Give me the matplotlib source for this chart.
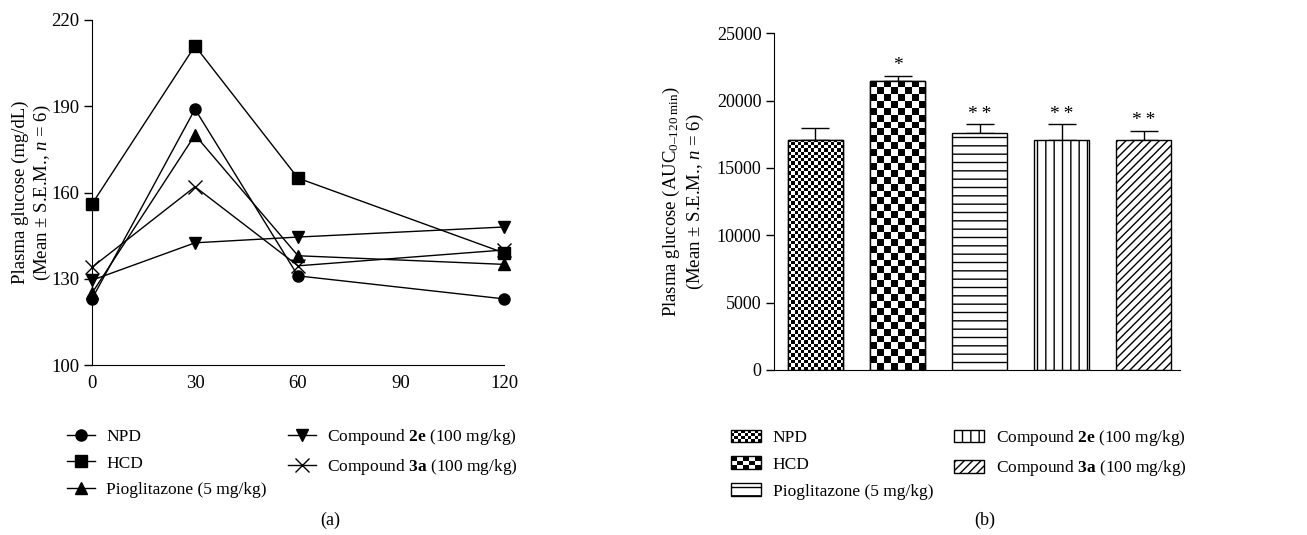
import numpy as np
import matplotlib
matplotlib.use("Agg")
import matplotlib.pyplot as plt
from matplotlib.patches import Rectangle
from matplotlib.legend_handler import HandlerBase

plt.rcParams['font.family'] = ['Liberation Serif', 'DejaVu Serif']
plt.rcParams['mathtext.fontset'] = 'custom'
plt.rcParams['mathtext.rm'] = 'Liberation Serif'
plt.rcParams['mathtext.it'] = 'Liberation Serif:italic'
plt.rcParams['mathtext.bf'] = 'Liberation Serif:bold'
plt.rcParams['font.size'] = 12.5
plt.rcParams['hatch.linewidth'] = 1.0

# ---------------- data ----------------
time_points = [0, 30, 60, 120]
groups = ["NPD", "HCD", "Pioglitazone (5 mg/kg)",
          r"Compound $\mathbf{2e}$ (100 mg/kg)", r"Compound $\mathbf{3a}$ (100 mg/kg)"]
npd = [123, 189, 131, 123]
hcd = [156, 211, 165, 139]
pio = [125, 180, 138, 135]
c2e = [129.5, 142.5, 144.5, 148]
c3a = [134, 162, 134.5, 140]
series = [npd, hcd, pio, c2e, c3a]
markers = ['o', 's', '^', 'v', 'x']

auc_mean = [17100, 21450, 17600, 17100, 17050]
auc_sem = [900, 380, 650, 1150, 700]
auc_sig = ["", "*", "**", "**", "**"]

# ---------------- figure ----------------
W, H = 1307, 535
fig = plt.figure(figsize=(W / 100, H / 100), dpi=100)

def px_axes(l, t, r, b):
    return fig.add_axes([l / W, 1 - b / H, (r - l) / W, (b - t) / H])

# ---- panel (a) ----
ax1 = px_axes(92, 20, 504, 365)
handles_a = []
for vals, m, lab in zip(series, markers, groups):
    ms = 10.5 if m == 'x' else 8
    ln, = ax1.plot(time_points, vals, color='black', lw=1.0, marker=m, ms=ms,
                   mew=1.0, clip_on=False, label=lab)
    handles_a.append(ln)
ax1.set_xlim(0, 120)
ax1.set_ylim(100, 220)
ax1.set_xticks([0, 30, 60, 90, 120])
ax1.set_yticks([100, 130, 160, 190, 220])
for s in ['top', 'right']:
    ax1.spines[s].set_visible(False)
ax1.tick_params(axis='both', labelsize=13.5)
ax1.tick_params(axis='y', direction='out', length=6, width=1, pad=3)
ax1.tick_params(axis='x', length=0, pad=7)
ax1.set_ylabel("Plasma glucose (mg/dL)\n(Mean ± S.E.M., $n$ = 6)", labelpad=-1,
               linespacing=1.2, fontsize=13.5)

fig.legend(handles=handles_a, labels=groups, ncol=2, frameon=False,
           loc='upper left', bbox_to_anchor=(67 / W, 1 - 427 / H),
           handlelength=1.6, handletextpad=0.65, columnspacing=1.25,
           labelspacing=0.6, borderpad=0, borderaxespad=0)
fig.text(330 / W, 1 - 520 / H, "(a)", ha='center', va='center', fontsize=13)

# ---- panel (b) ----
ax2 = px_axes(774, 33.3, 1180, 370)
x = np.arange(len(auc_mean))
bw = 0.67
hatches = [None, None, '--', '||', '////']
bars = ax2.bar(x, auc_mean, width=bw, color='white', edgecolor='black',
               lw=1.0, zorder=2)
for b, h in zip(bars, hatches):
    if h:
        b.set_hatch(h)
ax2.errorbar(x, auc_mean, yerr=[np.zeros(len(auc_sem)), auc_sem], fmt='none',
             ecolor='black', elinewidth=1.0, capsize=10, capthick=1.0, zorder=1)
ax2.set_xticks([])
ax2.set_yticks([0, 5000, 10000, 15000, 20000, 25000])
for s in ['top', 'right']:
    ax2.spines[s].set_visible(False)
ax2.tick_params(axis='y', direction='out', length=6, width=1, pad=3, labelsize=13)
ax2.set_ylabel("Plasma glucose (AUC$_{\\mathrm{0–120\\ min}}$)\n(Mean ± S.E.M., $n$ = 6)",
               labelpad=8, linespacing=1.2, fontsize=13.5)

# checkerboard fills for NPD and HCD bars
ypx = 336.7 / 25000.0  # pixels per data unit
def checker(bar, cell_px, ncols):
    x0 = bar.get_x()
    w = bar.get_width()
    hgt = bar.get_height()
    cell_y = cell_px / ypx
    nrows = int(np.ceil(hgt / cell_y)) + 1
    arr = np.indices((nrows, ncols)).sum(axis=0) % 2
    im = ax2.imshow(arr, cmap='gray_r', vmin=0, vmax=1, interpolation='nearest',
                    extent=(x0, x0 + w, 0, nrows * cell_y), origin='lower',
                    aspect='auto', zorder=2.5)
    im.set_clip_path(bar)
checker(bars[0], 3.3, 17)
checker(bars[1], 6.9, 8)
for b in bars[:2]:
    ax2.add_patch(Rectangle((b.get_x(), 0), b.get_width(), b.get_height(),
                            fill=False, edgecolor='black', lw=1.0, zorder=3))
ax2.set_xlim(-0.505, 4.44)
ax2.set_ylim(0, 25000)

for xi, m, e, s in zip(x, auc_mean, auc_sem, auc_sig):
    if s:
        ax2.text(xi, m + e + 120, "\u2009".join(s), ha='center', va='bottom', fontsize=14)

# legend for (b)
class HandlerChecker(HandlerBase):
    def __init__(self, nx, ny):
        super().__init__()
        self.nx, self.ny = nx, ny
    def create_artists(self, legend, orig_handle, xdescent, ydescent, width,
                       height, fontsize, trans):
        arts = []
        cw = width / self.nx
        ch = height / self.ny
        for i in range(self.nx):
            for j in range(self.ny):
                if (i + j) % 2 == 0:
                    arts.append(Rectangle((-xdescent + i * cw, -ydescent + j * ch), cw, ch,
                                          facecolor='black', edgecolor='none', transform=trans))
        arts.append(Rectangle((-xdescent, -ydescent), width, height, facecolor='none',
                              edgecolor='black', lw=1.0, transform=trans))
        return arts

hb = [Rectangle((0, 0), 1, 1, facecolor='white', edgecolor='black', lw=1.0, hatch=h)
      for h in hatches]
fig.legend(handles=hb, labels=groups, ncol=2, frameon=False,
           loc='upper left', bbox_to_anchor=(731 / W, 1 - 428 / H),
           handlelength=1.75, handleheight=0.75, handletextpad=0.65, columnspacing=1.2,
           labelspacing=0.6, borderpad=0, borderaxespad=0,
           handler_map={hb[0]: HandlerChecker(9, 4), hb[1]: HandlerChecker(5, 3)})
fig.text(985 / W, 1 - 520 / H, "(b)", ha='center', va='center', fontsize=13)

fig.savefig("out.png", dpi=100)
